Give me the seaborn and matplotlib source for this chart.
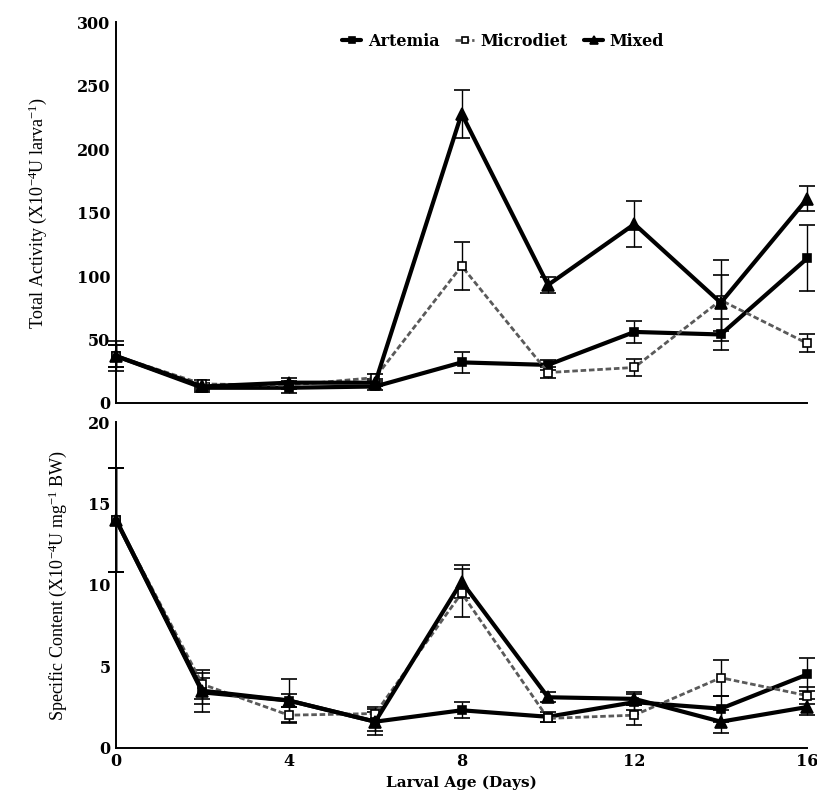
"""
Two-panel figure: total activity and specific content of larvae
fed Artemia, microdiet or a mixed diet, by larval age.
"""

import numpy as np
import pandas as pd
import matplotlib
matplotlib.use("Agg")
import matplotlib.pyplot as plt
import seaborn as sns

sns.set_theme(style="white")
plt.rcParams.update({
    "font.family": ["DejaVu Serif"],
    "mathtext.default": "regular",
    "axes.edgecolor": "black",
    "axes.linewidth": 1.4,
    "text.color": "black",
    "axes.labelcolor": "black",
    "xtick.color": "black",
    "ytick.color": "black",
})

# ---- data ------------------------------------------------------------------
days = [0, 2, 4, 6, 8, 10, 12, 14, 16]

ta_artemia = [37, 12, 12, 13, 32, 30, 56, 54, 114]
ta_artemia_err = [9, 3, 4, 3, 8, 4, 9, 12, 26]
ta_micro = [37, 15, 14, 20, 108, 24, 28, 81, 47]
ta_micro_err = [9, 3, 3, 3, 19, 4, 7, 32, 7]
ta_mixed = [37, 13, 16, 16, 228, 93, 141, 79, 161]
ta_mixed_err = [12, 3, 4, 3, 19, 6, 18, 22, 10]

sc_artemia = [14, 3.4, 2.9, 1.6, 2.3, 1.9, 2.8, 2.4, 4.5]
sc_artemia_err = [3.2, 1.2, 1.3, 0.8, 0.5, 0.3, 0.5, 0.8, 1.0]
sc_micro = [14, 3.9, 2.0, 2.1, 9.5, 1.8, 2.0, 4.3, 3.2]
sc_micro_err = [3.2, 0.9, 0.5, 0.4, 1.5, 0.2, 0.6, 1.1, 0.5]
sc_mixed = [14, 3.5, 2.9, 1.6, 10.2, 3.1, 3.0, 1.6, 2.5]
sc_mixed_err = [3.2, 0.8, 0.4, 0.6, 1.0, 0.3, 0.4, 0.7, 0.5]

diets = ["Artemia", "Microdiet", "Mixed"]

# style per diet: (color, marker, facecolor, linestyle, linewidth, markersize)
STYLE = {
    "Artemia":   ("black", "s", "black", "-", 3.0, 6),
    "Microdiet": ("#5a5a5a", "s", "white", (0, (2, 1)), 2.0, 6),
    "Mixed":     ("black", "^", "black", "-", 3.0, 8),
}


def long_frame(vals, errs):
    rows = []
    for diet, v, e in zip(diets, vals, errs):
        for d, y, err in zip(days, v, e):
            rows.append({"day": d, "value": y, "err": err, "diet": diet})
    return pd.DataFrame(rows)


def draw_panel(ax, df):
    for diet in diets:
        sub = df[df["diet"] == diet]
        color, marker, face, ls, lw, ms = STYLE[diet]
        ax.errorbar(sub["day"], sub["value"], yerr=sub["err"], fmt="none",
                    ecolor="black", elinewidth=1.0, capsize=6, capthick=1.2,
                    zorder=2, clip_on=False)
        sns.lineplot(data=sub, x="day", y="value", ax=ax, color=color,
                     linestyle=ls, linewidth=lw, marker=marker,
                     markersize=ms, markerfacecolor=face,
                     markeredgecolor="black", markeredgewidth=1.2,
                     label=diet, zorder=3, clip_on=False, errorbar=None)
    ax.set_xlim(0, 16)
    ax.set_xticks([0, 4, 8, 12, 16])
    for s in ("top", "right"):
        ax.spines[s].set_visible(False)
    ax.tick_params(direction="in", length=8, width=1.2, labelsize=11.5, pad=4)


fig = plt.figure(figsize=(8.17, 7.98), dpi=100)
ax1 = fig.add_axes([0.142, 0.495, 0.846, 0.477])
ax2 = fig.add_axes([0.142, 0.063, 0.846, 0.408])

draw_panel(ax1, long_frame([ta_artemia, ta_micro, ta_mixed],
                           [ta_artemia_err, ta_micro_err, ta_mixed_err]))
draw_panel(ax2, long_frame([sc_artemia, sc_micro, sc_mixed],
                           [sc_artemia_err, sc_micro_err, sc_mixed_err]))

ax1.set_ylim(0, 300)
ax1.set_yticks(np.arange(0, 301, 50))
ax1.set_xticklabels([])
ax1.set_xlabel("")
ax1.set_ylabel("Total Activity (X10$^{-4}$U larva$^{-1}$)",
               family="Liberation Serif", fontsize=13, labelpad=20)
ax1.legend(loc="upper center", bbox_to_anchor=(0.56, 1.01), ncol=3,
           frameon=False, handlelength=1.2, handletextpad=0.4,
           columnspacing=1.0, markerscale=0.8,
           prop={"family": "DejaVu Serif", "weight": "bold", "size": 11.5})

ax2.set_ylim(0, 20)
ax2.set_yticks([0, 5, 10, 15, 20])
ax2.set_ylabel("Specific Content (X10$^{-4}$U mg$^{-1}$ BW)",
               family="Liberation Serif", fontsize=13, labelpad=14)
ax2.set_xlabel("Larval Age (Days)", fontsize=11, fontweight="bold",
               labelpad=4)
if ax2.get_legend() is not None:
    ax2.get_legend().remove()

for ax in (ax1, ax2):
    for lab in ax.get_xticklabels() + ax.get_yticklabels():
        lab.set_fontweight("bold")

fig.savefig("out.png", dpi=100)
